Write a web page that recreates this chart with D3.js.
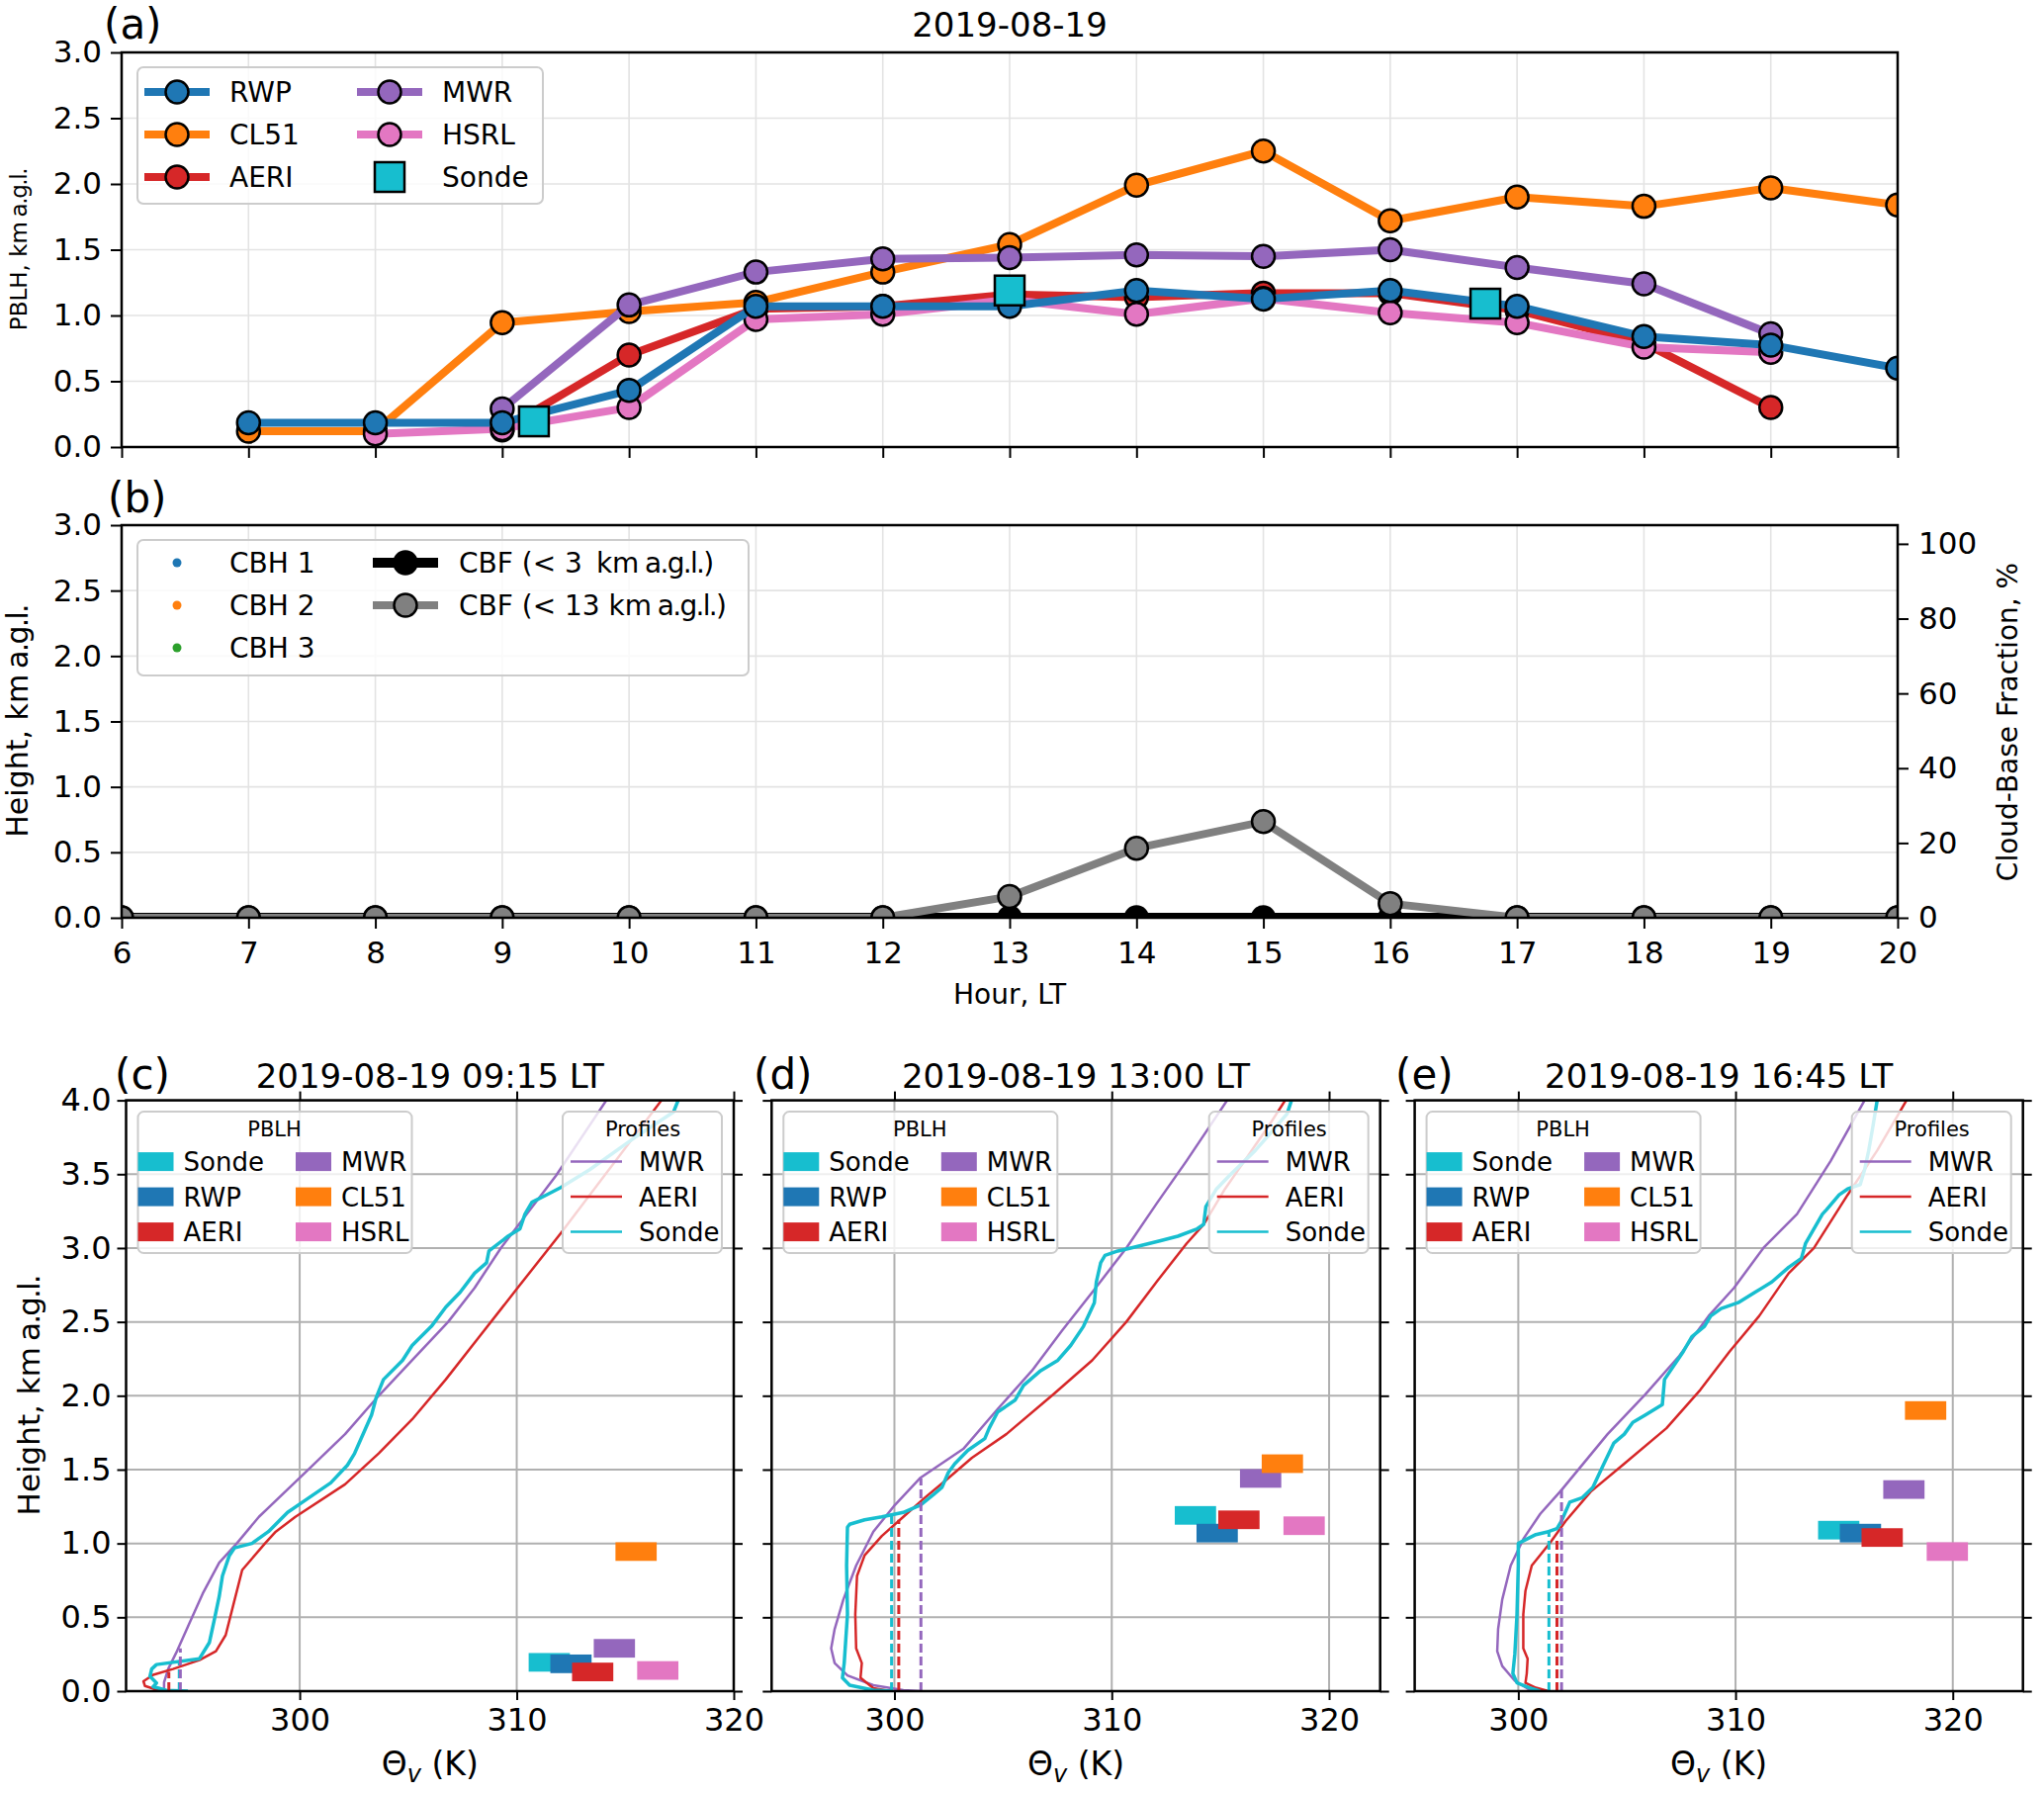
<!DOCTYPE html>
<html>
<head>
<meta charset="utf-8">
<script src="https://cdn.jsdelivr.net/npm/d3@7"></script>
<style>
  body { margin: 0; background: #fff; }
  svg { font-family: "DejaVu Sans", sans-serif; }
</style>
</head>
<body>
<div id="root"></div>
<script>
// ---------- data ----------
const hours = [6, 7, 8, 9, 10, 11, 12, 13, 14, 15, 16, 17, 18, 19, 20]

// (a) PBLH, km a.g.l. (null = no retrieval)
const rwpPblh  = [null, 0.185, 0.185, 0.185, 0.43, 1.07, 1.07, 1.07, 1.19, 1.125, 1.19, 1.07, 0.84, 0.775, 0.60]
const cl51Pblh = [null, 0.12, 0.12, 0.945, 1.03, 1.10, 1.33, 1.54, 1.99, 2.25, 1.72, 1.90, 1.83, 1.97, 1.84]
const aeriPblh = [null, null, null, 0.13, 0.70, 1.05, 1.07, 1.16, 1.14, 1.17, 1.17, 1.04, 0.79, 0.30, null]
const mwrPblh  = [null, null, null, 0.29, 1.08, 1.33, 1.43, 1.44, 1.46, 1.45, 1.50, 1.365, 1.24, 0.86, null]
const hsrlPblh = [null, null, 0.10, 0.14, 0.30, 0.97, 1.01, 1.12, 1.01, 1.13, 1.02, 0.945, 0.76, 0.72, null]
const sondeTimes = [9.25, 13.0, 16.75]
const sondePblh  = [0.195, 1.19, 1.09]

// (b) cloud-base fraction, %
const cbfBelow3  = [0, 0, 0, 0, 0, 0, 0, 0, 0, 0, 0, 0, 0, 0, 0]
const cbfBelow13 = [0, 0, 0, 0, 0, 0, 0, 5.7, 18.6, 25.7, 3.8, 0, 0, 0, 0]

// (c)-(e) virtual potential temperature profiles, [theta K, height km]
const mwrC = [[314.13,4.0],[311.81,3.49],[309.27,3.0],[308.06,2.73],[306.84,2.5],[305.18,2.24],[303.64,2.0],[302.09,1.74],[300.33,1.49],[298.12,1.18],[297.1,1.0],[296.29,0.87],[295.53,0.66],[294.92,0.46],[294.31,0.26],[293.94,0.15],[293.75,0.06],[293.75,0]]
const aeriC = [[316.67,4.0],[312.03,3.1],[310.04,2.73],[308.28,2.4],[306.73,2.11],[305.18,1.84],[303.64,1.61],[302.09,1.4],[299.8,1.18],[298.9,1.08],[298.4,1.0],[297.35,0.82],[296.9,0.56],[296.59,0.38],[296.14,0.27],[295.38,0.21],[294.16,0.15],[293.25,0.11],[292.8,0.067],[292.87,0.035],[293.4,0.01],[294.0,0]]
const sondeC = [[317.44,4.0],[317.22,3.92],[315.56,3.76],[313.36,3.53],[312.03,3.41],[311.37,3.36],[310.7,3.31],[310.38,3.23],[310.15,3.13],[309.6,3.08],[308.72,2.98],[308.61,2.9],[308.06,2.83],[307.39,2.7],[306.73,2.6],[306.07,2.47],[305.18,2.34],[304.74,2.24],[303.86,2.11],[303.53,1.99],[303.31,1.87],[302.53,1.61],[302.2,1.53],[301.43,1.41],[300.33,1.3],[299.44,1.21],[298.56,1.08],[297.8,1.0],[297.0,0.97],[296.75,0.915],[296.44,0.78],[296.29,0.64],[296.06,0.48],[295.84,0.33],[295.38,0.22],[293.4,0.18],[293.18,0.15],[293.1,0.1],[293.4,0.055],[293.25,0.03],[293.86,0.005],[294.85,0]]

const mwrD = [[315.31,4.0],[313.44,3.59],[312.06,3.3],[310.67,3.0],[309.1,2.7],[307.71,2.44],[306.33,2.17],[304.75,1.91],[303.17,1.64],[301.2,1.445],[300.02,1.26],[299.03,1.08],[298.24,0.85],[297.65,0.62],[297.25,0.42],[297.09,0.29],[297.25,0.19],[297.84,0.106],[299.03,0.04],[300.41,0.007],[301.2,0]]
const aeriD = [[317.98,4.0],[317.19,3.82],[316.2,3.61],[315.21,3.4],[314.23,3.16],[313.44,3.03],[312.06,2.77],[310.67,2.5],[309.1,2.24],[307.32,2.01],[305.15,1.74],[303.57,1.58],[302.38,1.43],[301.4,1.31],[300.41,1.18],[299.42,1.05],[298.63,0.92],[298.28,0.78],[298.2,0.52],[298.24,0.29],[298.5,0.19],[298.44,0.09],[299.03,0.02],[299.82,0]]
const sondeD = [[318.27,4.0],[318.07,3.91],[317.38,3.79],[316.6,3.66],[315.41,3.49],[314.82,3.4],[314.33,3.28],[314.23,3.16],[313.93,3.13],[313.04,3.08],[312.25,3.05],[310.87,3.0],[310.28,2.98],[309.69,2.95],[309.49,2.9],[309.29,2.77],[309.2,2.63],[308.7,2.47],[308.11,2.34],[307.52,2.24],[306.73,2.17],[305.94,2.07],[305.55,1.97],[304.75,1.89],[304.36,1.78],[304.16,1.71],[303.38,1.63],[302.78,1.54],[302.48,1.48],[302.19,1.38],[301.79,1.33],[301.2,1.26],[300.41,1.21],[299.42,1.18],[298.63,1.16],[297.94,1.13],[297.84,1.11],[297.8,0.85],[297.84,0.52],[297.69,0.19],[297.61,0.09],[297.94,0.04],[299.03,0.007],[299.92,0]]

const mwrE = [[315.94,4.0],[314.38,3.59],[312.83,3.23],[311.28,3.0],[309.93,2.73],[308.76,2.54],[307.41,2.27],[305.85,2.01],[304.11,1.74],[301.98,1.36],[301.01,1.2],[300.23,1.03],[299.65,0.85],[299.26,0.62],[299.07,0.42],[299.03,0.27],[299.26,0.17],[299.84,0.07],[300.43,0.017],[300.81,0]]
const aeriE = [[317.87,4.0],[316.52,3.66],[315.16,3.36],[313.61,3.0],[312.45,2.83],[311.09,2.54],[309.73,2.3],[308.38,2.04],[306.82,1.78],[304.88,1.54],[303.33,1.35],[302.17,1.15],[301.49,1.01],[300.62,0.85],[300.33,0.68],[300.23,0.52],[300.23,0.29],[300.43,0.22],[300.39,0.12],[300.33,0.056],[300.81,0.023],[301.39,0]]
const sondeE = [[316.52,4.0],[316.32,3.82],[316.13,3.66],[315.94,3.53],[315.74,3.43],[315.16,3.4],[314.77,3.36],[314.19,3.26],[314.0,3.23],[313.22,3.03],[313.03,2.93],[312.45,2.87],[311.67,2.77],[310.89,2.7],[310.12,2.63],[309.34,2.59],[308.86,2.54],[308.57,2.47],[307.99,2.4],[307.6,2.3],[306.73,2.11],[306.63,1.94],[305.85,1.87],[305.27,1.82],[304.88,1.74],[304.4,1.68],[303.91,1.53],[303.43,1.38],[302.95,1.31],[302.37,1.28],[301.98,1.15],[301.78,1.1],[301.39,1.08],[300.81,1.06],[300.13,1.01],[300.0,1.0],[300.0,0.85],[299.94,0.52],[299.84,0.25],[299.75,0.12],[299.94,0.056],[300.52,0.023],[301.0,0]]

// theta (K) where the dashed PBLH markers stand: Sonde, AERI, MWR
const dashThetaC = [294.45, 293.97, 294.5]
const dashThetaD = [299.87, 300.2, 301.22]
const dashThetaE = [301.41, 301.78, 301.99]

// left edge (K) of the first PBLH bar in each profile panel
const barStartK = [310.55, 312.9, 313.8]

// ---------- look ----------
const FONT = '"DejaVu Sans", sans-serif'
const col = { RWP: '#1f77b4', CL51: '#ff7f0e', AERI: '#d62728', MWR: '#9467bd', HSRL: '#e377c2', Sonde: '#17becf', gray: '#808080' }

const svg = d3.select('#root').append('svg').attr('width', 2067).attr('height', 1814)
const defs = svg.append('defs')

function clip(id, x0, y0, x1, y1) {
  defs.append('clipPath').attr('id', id).append('rect')
    .attr('x', x0).attr('y', y0).attr('width', x1 - x0).attr('height', y1 - y0)
  return svg.append('g').attr('clip-path', `url(#${id})`)
}
function frame(x0, y0, x1, y1) {
  svg.append('rect').attr('x', x0).attr('y', y0).attr('width', x1 - x0).attr('height', y1 - y0)
    .attr('fill', 'none').attr('stroke', '#000').attr('stroke-width', 2.5)
}
function addAxis(axis, tx, ty, size) {
  const g = svg.append('g').attr('transform', `translate(${tx},${ty})`).call(axis)
  g.attr('font-family', FONT).attr('font-size', size)
  g.select('.domain').remove()
  g.selectAll('.tick line').attr('stroke', '#000').attr('stroke-width', 2)
  g.selectAll('.tick text').attr('fill', '#000')
  return g
}
function text(x, y, s, size, anchor, rot) {
  const t = svg.append('text').attr('x', x).attr('y', y).attr('font-size', size)
    .attr('text-anchor', anchor || 'start').text(s)
  if (rot) t.attr('transform', `rotate(-90,${x},${y})`).attr('dominant-baseline', 'central')
  return t
}
// label ending in a tightly set "km a.g.l." like matplotlib mathtext
function kmText(x, y, head, size, anchor, rot) {
  const t = text(x, y, head, size, anchor, rot)
  t.append('tspan').text('km\u2009')
  t.append('tspan').attr('letter-spacing', -size * 0.06).text('a.g.l.')
  return t
}
function legendBox(x, y, w, h) {
  svg.append('rect').attr('x', x).attr('y', y).attr('width', w).attr('height', h).attr('rx', 6)
    .attr('fill', '#fff').attr('fill-opacity', 0.8).attr('stroke', '#cccccc').attr('stroke-width', 2)
}

// ---------- (a) ----------
const A = { l: 123, r: 1919, t: 53, b: 452 }
const xT = d3.scaleLinear().domain([6, 20]).range([A.l, A.r])
const yA = d3.scaleLinear().domain([0, 3]).range([A.b, A.t])

const gridA = svg.append('g').attr('stroke', '#e3e3e3').attr('stroke-width', 1.6)
hours.forEach(h => gridA.append('line').attr('x1', xT(h)).attr('x2', xT(h)).attr('y1', A.t).attr('y2', A.b))
yA.ticks(6).forEach(v => gridA.append('line').attr('x1', A.l).attr('x2', A.r).attr('y1', yA(v)).attr('y2', yA(v)))

const plotA = clip('clipA', A.l, A.t, A.r, A.b)
const seriesA = [
  { name: 'CL51', vals: cl51Pblh },
  { name: 'AERI', vals: aeriPblh },
  { name: 'MWR', vals: mwrPblh },
  { name: 'HSRL', vals: hsrlPblh },
  { name: 'RWP', vals: rwpPblh }
]
const lineA = d3.line().defined(d => d[1] != null).x(d => xT(d[0])).y(d => yA(d[1]))
seriesA.forEach(s => {
  const pts = hours.map((h, i) => [h, s.vals[i]])
  plotA.append('path').datum(pts).attr('d', lineA).attr('fill', 'none')
    .attr('stroke', col[s.name]).attr('stroke-width', 8).attr('stroke-linejoin', 'round')
  plotA.selectAll(null).data(pts.filter(d => d[1] != null)).enter().append('circle')
    .attr('cx', d => xT(d[0])).attr('cy', d => yA(d[1])).attr('r', 11.5)
    .attr('fill', col[s.name]).attr('stroke', '#000').attr('stroke-width', 2.5)
})
plotA.selectAll(null).data(sondeTimes.map((t, i) => [t, sondePblh[i]])).enter().append('rect')
  .attr('x', d => xT(d[0]) - 15).attr('y', d => yA(d[1]) - 15).attr('width', 30).attr('height', 30)
  .attr('fill', col.Sonde).attr('stroke', '#000').attr('stroke-width', 2.5)

addAxis(d3.axisLeft(yA).tickValues(yA.ticks(6)).tickFormat(d3.format('.1f')).tickSize(11).tickPadding(9), A.l, 0, 31)
addAxis(d3.axisBottom(xT).tickValues(hours).tickFormat(() => '').tickSize(11), 0, A.b, 31)
frame(A.l, A.t, A.r, A.b)

// legend (a)
legendBox(139, 68, 410, 138)
const legA = [
  { name: 'RWP', c: 0, r: 0 }, { name: 'CL51', c: 0, r: 1 }, { name: 'AERI', c: 0, r: 2 },
  { name: 'MWR', c: 1, r: 0 }, { name: 'HSRL', c: 1, r: 1 }, { name: 'Sonde', c: 1, r: 2 }
]
legA.forEach(e => {
  const x0 = e.c ? 361 : 146, y = 93 + e.r * 43
  if (e.name === 'Sonde') {
    svg.append('rect').attr('x', x0 + 18).attr('y', y - 15).attr('width', 30).attr('height', 30)
      .attr('fill', col.Sonde).attr('stroke', '#000').attr('stroke-width', 2.5)
  } else {
    svg.append('line').attr('x1', x0).attr('x2', x0 + 66).attr('y1', y).attr('y2', y)
      .attr('stroke', col[e.name]).attr('stroke-width', 8)
    svg.append('circle').attr('cx', x0 + 33).attr('cy', y).attr('r', 11.5)
      .attr('fill', col[e.name]).attr('stroke', '#000').attr('stroke-width', 2.5)
  }
  text(x0 + 86, y + 10, e.name, 28)
})

text(A.l - 18, 39, '(a)', 42)
text((A.l + A.r) / 2, 37, '2019-08-19', 34, 'middle')
kmText(19, (A.t + A.b) / 2, 'PBLH, ', 23, 'middle', true)

// ---------- (b) ----------
const B = { l: 123, r: 1919, t: 531, b: 928 }
const yB = d3.scaleLinear().domain([0, 3]).range([B.b, B.t])
const yF = d3.scaleLinear().domain([0, 105]).range([B.b, B.t])

const gridB = svg.append('g').attr('stroke', '#e3e3e3').attr('stroke-width', 1.6)
hours.forEach(h => gridB.append('line').attr('x1', xT(h)).attr('x2', xT(h)).attr('y1', B.t).attr('y2', B.b))
yB.ticks(6).forEach(v => gridB.append('line').attr('x1', B.l).attr('x2', B.r).attr('y1', yB(v)).attr('y2', yB(v)))

const plotB = clip('clipB', B.l, B.t, B.r, B.b)
const lineB = d3.line().x(d => xT(d[0])).y(d => yF(d[1]))
const cbfSeries = [
  { vals: cbfBelow3, color: '#000', w: 10 },
  { vals: cbfBelow13, color: col.gray, w: 8 }
]
cbfSeries.forEach(s => {
  const pts = hours.map((h, i) => [h, s.vals[i]])
  plotB.append('path').datum(pts).attr('d', lineB).attr('fill', 'none')
    .attr('stroke', s.color).attr('stroke-width', s.w).attr('stroke-linejoin', 'round')
  plotB.selectAll(null).data(pts).enter().append('circle')
    .attr('cx', d => xT(d[0])).attr('cy', d => yF(d[1])).attr('r', 11.5)
    .attr('fill', s.color).attr('stroke', '#000').attr('stroke-width', 2.5)
})

addAxis(d3.axisLeft(yB).tickValues(yB.ticks(6)).tickFormat(d3.format('.1f')).tickSize(11).tickPadding(9), B.l, 0, 31)
addAxis(d3.axisBottom(xT).tickValues(hours).tickFormat(d3.format('d')).tickSize(11).tickPadding(13), 0, B.b, 31)
addAxis(d3.axisRight(yF).tickValues([0, 20, 40, 60, 80, 100]).tickSize(11).tickPadding(10), B.r, 0, 31)
frame(B.l, B.t, B.r, B.b)

legendBox(139, 546, 618, 137)
;['CBH 1', 'CBH 2', 'CBH 3'].forEach((s, i) => {
  const y = 569 + i * 43
  svg.append('circle').attr('cx', 179).attr('cy', y).attr('r', 4.5).attr('fill', [col.RWP, col.CL51, '#2ca02c'][i])
  text(232, y + 10, s, 28)
})
;[{ s: 'CBF (< 3\u2002', c: '#000', w: 10 }, { s: 'CBF (< 13 ', c: col.gray, w: 8 }].forEach((e, i) => {
  const y = 569 + i * 43
  svg.append('line').attr('x1', 377).attr('x2', 443).attr('y1', y).attr('y2', y).attr('stroke', e.c).attr('stroke-width', e.w)
  svg.append('circle').attr('cx', 410).attr('cy', y).attr('r', 11.5).attr('fill', e.c).attr('stroke', '#000').attr('stroke-width', 2.5)
  kmText(464, y + 10, e.s, 28).append('tspan').text(')')
})

text(B.l - 14, 518, '(b)', 42)
kmText(17, (B.t + B.b) / 2, 'Height, ', 30, 'middle', true)
text(2030, 730, 'Cloud-Base Fraction, %', 28, 'middle', true)
text((B.l + B.r) / 2, 1015, 'Hour, LT', 28, 'middle')

// ---------- (c)-(e) ----------
const panels = [
  { id: 'c', l: 127.5, r: 742, x0: 292.0, title: '2019-08-19 09:15 LT', hour: 9, sonde: 0,
    mwr: mwrC, aeri: aeriC, sondeP: sondeC, dash: dashThetaC, bar: barStartK[0], lab: 116, ylab: true },
  { id: 'd', l: 780.3, r: 1395.7, x0: 294.35, title: '2019-08-19 13:00 LT', hour: 13, sonde: 1,
    mwr: mwrD, aeri: aeriD, sondeP: sondeD, dash: dashThetaD, bar: barStartK[1], lab: 762 },
  { id: 'e', l: 1430.6, r: 2045.7, x0: 295.23, title: '2019-08-19 16:45 LT', hour: 17, sonde: 2,
    mwr: mwrE, aeri: aeriE, sondeP: sondeE, dash: dashThetaE, bar: barStartK[2], lab: 1411 }
]
const PT = 1112.6, PB = 1710
const yP = d3.scaleLinear().domain([0, 4]).range([PB, PT])
const hTicks = [0, 0.5, 1, 1.5, 2, 2.5, 3, 3.5, 4]

panels.forEach(p => {
  const x = d3.scaleLinear().domain([p.x0, p.x0 + 28]).range([p.l, p.r])
  const xt = [300, 310, 320]
  const grid = svg.append('g').attr('stroke', '#b0b0b0').attr('stroke-width', 2)
  xt.forEach(v => grid.append('line').attr('x1', x(v)).attr('x2', x(v)).attr('y1', PT).attr('y2', PB))
  hTicks.forEach(v => grid.append('line').attr('x1', p.l).attr('x2', p.r).attr('y1', yP(v)).attr('y2', yP(v)))

  const g = clip('clip' + p.id, p.l, PT, p.r, PB)
  const line = d3.line().x(d => x(d[0])).y(d => yP(d[1]))
  ;[[p.mwr, col.MWR, 2.5], [p.aeri, col.AERI, 2.5], [p.sondeP, col.Sonde, 3.5]].forEach(([data, c, w]) => {
    g.append('path').datum(data).attr('d', line).attr('fill', 'none').attr('stroke', c)
      .attr('stroke-width', w).attr('stroke-linejoin', 'round')
  })

  // dashed PBLH markers (Sonde, AERI, MWR)
  const hi = hours.indexOf(p.hour)
  const dashH = [sondePblh[p.sonde], aeriPblh[hi], mwrPblh[hi]]
  ;[col.Sonde, col.AERI, col.MWR].forEach((c, i) => {
    g.append('line').attr('x1', x(p.dash[i])).attr('x2', x(p.dash[i]))
      .attr('y1', yP(0)).attr('y2', yP(dashH[i]))
      .attr('stroke', c).attr('stroke-width', 3).attr('stroke-dasharray', '9,4')
  })

  // PBLH bars: Sonde, RWP, AERI, MWR, CL51, HSRL
  const bars = [
    ['Sonde', sondePblh[p.sonde]], ['RWP', rwpPblh[hi]], ['AERI', aeriPblh[hi]],
    ['MWR', mwrPblh[hi]], ['CL51', cl51Pblh[hi]], ['HSRL', hsrlPblh[hi]]
  ]
  bars.forEach(([n, v], i) => {
    const k0 = p.bar + i * 1.0
    g.append('rect').attr('x', x(k0)).attr('width', x(k0 + 1.9) - x(k0))
      .attr('y', yP(v + 0.063)).attr('height', yP(0) - yP(0.126)).attr('fill', col[n])
  })

  addAxis(d3.axisLeft(yP).tickValues(hTicks).tickFormat(p.ylab ? d3.format('.1f') : () => '').tickSize(9).tickPadding(6), p.l, 0, 32)
  addAxis(d3.axisRight(yP).tickValues(hTicks).tickFormat(() => '').tickSize(9), p.r, 0, 32)
  addAxis(d3.axisBottom(x).tickValues(xt).tickFormat(d3.format('d')).tickSize(9).tickPadding(8), 0, PB, 32)
  addAxis(d3.axisTop(x).tickValues(xt).tickFormat(() => '').tickSize(9), 0, PT, 32)
  frame(p.l, PT, p.r, PB)

  // PBLH legend
  const lx = p.l + 12, ly = PT + 11.5
  legendBox(lx, ly, 277, 143)
  text(lx + 138, ly + 25, 'PBLH', 21, 'middle')
  bars.forEach(([n], i) => {
    const cx = lx + (i < 3 ? 0 : 159.5), ry = ly + 50.5 + (i % 3) * 35.5
    svg.append('rect').attr('x', cx).attr('y', ry - 9.5).attr('width', 36).attr('height', 19).attr('fill', col[n])
  })
  ;['Sonde', 'RWP', 'AERI', 'MWR', 'CL51', 'HSRL'].forEach((n, i) => {
    const cx = lx + (i < 3 ? 46 : 205.5), ry = ly + 50.5 + (i % 3) * 35.5
    text(cx, ry + 9.5, n, 26)
  })

  // Profiles legend
  const rx = p.r - 12 - 161
  legendBox(rx, ly, 161, 143)
  text(rx + 81, ly + 25, 'Profiles', 21, 'middle')
  ;[['MWR', col.MWR], ['AERI', col.AERI], ['Sonde', col.Sonde]].forEach(([n, c], i) => {
    const ry = ly + 50.5 + i * 35.5
    svg.append('line').attr('x1', rx + 8).attr('x2', rx + 60).attr('y1', ry).attr('y2', ry)
      .attr('stroke', c).attr('stroke-width', 2.5)
    text(rx + 77, ry + 9.5, n, 26)
  })

  text(p.lab, 1101, `(${p.id})`, 42)
  text((p.l + p.r) / 2, 1100, p.title, 34, 'middle')
  const xl = text((p.l + p.r) / 2, 1795, 'Θ', 33, 'middle')
  xl.append('tspan').attr('font-style', 'italic').attr('font-size', 24).attr('dy', 7).text('v')
  xl.append('tspan').attr('dy', -7).text(' (K)')
})

kmText(29, (PT + PB) / 2, 'Height, ', 31, 'middle', true)
</script>
</body>
</html>
